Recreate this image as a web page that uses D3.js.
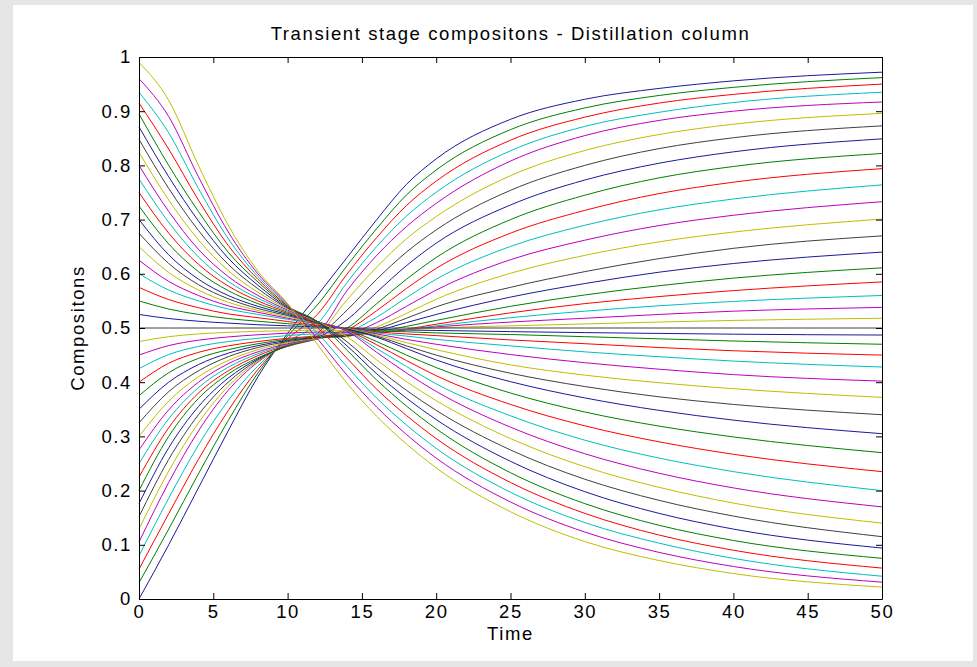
<!DOCTYPE html>
<html>
<head>
<meta charset="utf-8">
<script src="https://cdn.jsdelivr.net/npm/d3@7"></script>
<style>
  html, body { margin: 0; padding: 0; background: #e6e6e6; }
  svg { display: block; }
  text { font-family: "Liberation Sans", Arial, Helvetica, sans-serif; fill: #000; }
</style>
</head>
<body>
<script>
// ---- data ----
const title = "Transient stage compositons - Distillation column";
const xLabel = "Time";
const yLabel = "Compositons";
const xTicks = [0, 5, 10, 15, 20, 25, 30, 35, 40, 45, 50];
const yTicks = [0, 0.1, 0.2, 0.3, 0.4, 0.5, 0.6, 0.7, 0.8, 0.9, 1];
const yTickLabels = ["0", "0.1", "0.2", "0.3", "0.4", "0.5", "0.6", "0.7", "0.8", "0.9", "1"];
const times = [0, 2, 4, 6, 8, 10, 12, 14, 16, 18, 20, 25, 30, 35, 40, 50];

const stage00 = [0.0, 0.10, 0.205, 0.31, 0.41, 0.49, 0.56, 0.63, 0.70, 0.765, 0.812, 0.885, 0.922, 0.942, 0.956, 0.972];
const stage01 = [0.03, 0.129, 0.231, 0.329, 0.417, 0.485, 0.5425, 0.615, 0.6835, 0.7455, 0.7915, 0.866, 0.906, 0.929, 0.944, 0.962];
const stage02 = [0.055, 0.1575, 0.2575, 0.3475, 0.4235, 0.48, 0.525, 0.5995, 0.667, 0.726, 0.771, 0.8465, 0.889, 0.915, 0.931, 0.95];
const stage03 = [0.08, 0.186, 0.284, 0.366, 0.43, 0.475, 0.5075, 0.584, 0.6505, 0.7065, 0.7505, 0.827, 0.872, 0.898, 0.916, 0.935];
const stage04 = [0.105, 0.215, 0.31, 0.385, 0.437, 0.47, 0.49, 0.569, 0.634, 0.687, 0.73, 0.808, 0.855, 0.883, 0.90, 0.917];
const stage05 = [0.129, 0.236, 0.325, 0.3925, 0.439, 0.469, 0.4875, 0.552, 0.6125, 0.6645, 0.7055, 0.781, 0.8275, 0.857, 0.876, 0.896];
const stage06 = [0.152, 0.2575, 0.34, 0.40, 0.441, 0.468, 0.485, 0.533, 0.59, 0.64, 0.681, 0.754, 0.80, 0.831, 0.851, 0.873];
const stage07 = [0.176, 0.279, 0.355, 0.4075, 0.443, 0.467, 0.4825, 0.515, 0.566, 0.615, 0.6565, 0.727, 0.773, 0.804, 0.825, 0.849];
const stage08 = [0.20, 0.30, 0.37, 0.415, 0.445, 0.466, 0.48, 0.50, 0.545, 0.59, 0.63, 0.70, 0.745, 0.777, 0.798, 0.822];
const stage09 = [0.225, 0.316, 0.38, 0.421, 0.449, 0.468, 0.48, 0.496, 0.532, 0.573, 0.61, 0.675, 0.717, 0.748, 0.769, 0.794];
const stage10 = [0.25, 0.3325, 0.39, 0.4275, 0.4525, 0.4695, 0.4805, 0.492, 0.52, 0.556, 0.59, 0.6505, 0.6895, 0.718, 0.738, 0.764];
const stage11 = [0.275, 0.349, 0.40, 0.434, 0.456, 0.471, 0.481, 0.488, 0.51, 0.54, 0.57, 0.626, 0.662, 0.689, 0.708, 0.733];
const stage12 = [0.30, 0.365, 0.41, 0.44, 0.46, 0.473, 0.481, 0.484, 0.502, 0.527, 0.553, 0.601, 0.634, 0.659, 0.677, 0.701];
const stage13 = [0.325, 0.3825, 0.421, 0.447, 0.464, 0.475, 0.482, 0.485, 0.498, 0.518, 0.539, 0.575, 0.604, 0.628, 0.647, 0.67];
const stage14 = [0.35, 0.40, 0.4325, 0.4535, 0.4675, 0.477, 0.483, 0.486, 0.495, 0.51, 0.525, 0.557, 0.582, 0.603, 0.619, 0.64];
const stage15 = [0.375, 0.4175, 0.444, 0.46, 0.471, 0.479, 0.484, 0.487, 0.493, 0.503, 0.514, 0.54, 0.561, 0.578, 0.592, 0.611];
const stage16 = [0.40, 0.435, 0.455, 0.467, 0.475, 0.481, 0.485, 0.487, 0.491, 0.498, 0.507, 0.528, 0.545, 0.558, 0.569, 0.585];
const stage17 = [0.425, 0.451, 0.466, 0.475, 0.481, 0.486, 0.489, 0.489, 0.491, 0.497, 0.504, 0.519, 0.531, 0.541, 0.549, 0.56];
const stage18 = [0.45, 0.4675, 0.4775, 0.4835, 0.4875, 0.4905, 0.4925, 0.492, 0.492, 0.497, 0.502, 0.511, 0.518, 0.525, 0.531, 0.538];
const stage19 = [0.475, 0.484, 0.489, 0.492, 0.494, 0.495, 0.496, 0.495, 0.494, 0.497, 0.5, 0.504, 0.5075, 0.511, 0.514, 0.518];
const stage20 = [0.5, 0.5, 0.5, 0.5, 0.5, 0.5, 0.5, 0.5, 0.5, 0.5, 0.5, 0.5, 0.5, 0.5, 0.5, 0.5];
const stage21 = [0.525, 0.5175, 0.5125, 0.509, 0.506, 0.504, 0.502, 0.5, 0.497, 0.4962, 0.4955, 0.4933, 0.4915, 0.49, 0.4886, 0.487];
const stage22 = [0.55, 0.535, 0.525, 0.5175, 0.5125, 0.508, 0.5035, 0.5, 0.495, 0.493, 0.491, 0.488, 0.484, 0.48, 0.476, 0.47];
const stage23 = [0.575, 0.5525, 0.5375, 0.526, 0.519, 0.512, 0.505, 0.5, 0.493, 0.489, 0.486, 0.478, 0.471, 0.464, 0.458, 0.45];
const stage24 = [0.60, 0.57, 0.55, 0.535, 0.525, 0.516, 0.507, 0.499, 0.491, 0.485, 0.479, 0.467, 0.456, 0.447, 0.439, 0.428];
const stage25 = [0.625, 0.586, 0.56, 0.541, 0.529, 0.518, 0.508, 0.499, 0.489, 0.479, 0.47, 0.451, 0.436, 0.424, 0.414, 0.402];
const stage26 = [0.65, 0.6025, 0.57, 0.5475, 0.5325, 0.5205, 0.5085, 0.499, 0.487, 0.473, 0.46, 0.432, 0.413, 0.399, 0.388, 0.372];
const stage27 = [0.675, 0.619, 0.58, 0.554, 0.536, 0.523, 0.509, 0.498, 0.485, 0.467, 0.45, 0.4165, 0.392, 0.373, 0.359, 0.34];
const stage28 = [0.70, 0.635, 0.59, 0.56, 0.54, 0.525, 0.51, 0.498, 0.483, 0.462, 0.441, 0.401, 0.371, 0.348, 0.33, 0.305];
const stage29 = [0.725, 0.655, 0.604, 0.569, 0.545, 0.527, 0.5105, 0.497, 0.475, 0.45, 0.427, 0.38, 0.345, 0.319, 0.299, 0.27];
const stage30 = [0.75, 0.675, 0.6175, 0.5775, 0.55, 0.529, 0.511, 0.496, 0.469, 0.44, 0.412, 0.359, 0.3195, 0.29, 0.267, 0.235];
const stage31 = [0.775, 0.695, 0.631, 0.586, 0.555, 0.531, 0.5115, 0.495, 0.462, 0.429, 0.397, 0.338, 0.293, 0.26, 0.235, 0.20];
const stage32 = [0.80, 0.715, 0.645, 0.595, 0.56, 0.533, 0.512, 0.494, 0.455, 0.417, 0.383, 0.317, 0.268, 0.232, 0.205, 0.17];
const stage33 = [0.824, 0.736, 0.6625, 0.606, 0.566, 0.535, 0.512, 0.484, 0.441, 0.401, 0.366, 0.296, 0.244, 0.206, 0.177, 0.14];
const stage34 = [0.848, 0.7575, 0.68, 0.6175, 0.5725, 0.5365, 0.512, 0.4745, 0.427, 0.385, 0.348, 0.275, 0.221, 0.182, 0.153, 0.115];
const stage35 = [0.871, 0.779, 0.6975, 0.629, 0.579, 0.538, 0.512, 0.467, 0.4155, 0.3705, 0.331, 0.254, 0.198, 0.158, 0.129, 0.094];
const stage36 = [0.895, 0.80, 0.715, 0.64, 0.585, 0.54, 0.512, 0.459, 0.404, 0.356, 0.314, 0.233, 0.176, 0.136, 0.108, 0.075];
const stage37 = [0.915, 0.83, 0.736, 0.6525, 0.59, 0.541, 0.5015, 0.444, 0.387, 0.3385, 0.296, 0.215, 0.158, 0.118, 0.09, 0.057];
const stage38 = [0.935, 0.86, 0.7575, 0.665, 0.595, 0.5425, 0.491, 0.4285, 0.3705, 0.321, 0.278, 0.197, 0.141, 0.103, 0.075, 0.042];
const stage39 = [0.96, 0.89, 0.779, 0.6775, 0.60, 0.544, 0.4805, 0.413, 0.354, 0.3035, 0.26, 0.179, 0.1235, 0.086, 0.06, 0.031];
const stage40 = [0.99, 0.92, 0.80, 0.69, 0.605, 0.545, 0.47, 0.398, 0.337, 0.286, 0.242, 0.161, 0.106, 0.071, 0.047, 0.022];

const stages = [stage00, stage01, stage02, stage03, stage04, stage05, stage06, stage07, stage08, stage09,
  stage10, stage11, stage12, stage13, stage14, stage15, stage16, stage17, stage18, stage19, stage20,
  stage21, stage22, stage23, stage24, stage25, stage26, stage27, stage28, stage29, stage30,
  stage31, stage32, stage33, stage34, stage35, stage36, stage37, stage38, stage39, stage40];

// MATLAB default colour order
const colorOrder = ["#1a1a9a", "#007f00", "#ff0000", "#00bfbf", "#bf00bf", "#bfbf00", "#404040"];

// ---- drawing ----
const W = 977, H = 667;
const plot = { left: 139, right: 882, top: 57, bottom: 599 };

const svg = d3.select("body").append("svg").attr("width", W).attr("height", H);
svg.append("rect").attr("x", 0).attr("y", 0).attr("width", W).attr("height", H).attr("fill", "#e6e6e6");
svg.append("rect").attr("x", 13).attr("y", 5).attr("width", 960).attr("height", 656).attr("fill", "#ffffff");

const x = d3.scaleLinear().domain([0, 50]).range([plot.left, plot.right]);
const y = d3.scaleLinear().domain([0, 1]).range([plot.bottom, plot.top]);

const line = d3.line()
  .x((d, i) => x(times[i]))
  .y(d => y(d))
  .curve(d3.curveMonotoneX);

svg.append("g")
  .selectAll("path")
  .data(stages)
  .join("path")
  .attr("d", d => line(d))
  .attr("fill", "none")
  .attr("stroke", (d, i) => colorOrder[i % colorOrder.length])
  .attr("stroke-width", 1);

const fontSize = "18.5px";
const spacing = "1.6px";

function styleAxis(g) {
  g.select(".domain").attr("stroke", "#000").attr("stroke-width", 1);
  g.selectAll(".tick line").attr("stroke", "#000");
  g.selectAll("text").style("font-size", fontSize).style("letter-spacing", spacing)
    .attr("fill", "#000").style("font-family", "'Liberation Sans', Arial, sans-serif");
}

svg.append("g")
  .attr("transform", `translate(0,${plot.bottom})`)
  .call(d3.axisBottom(x).tickValues(xTicks).tickSizeInner(-6).tickSizeOuter(0).tickPadding(6).tickFormat(d3.format("d")))
  .call(styleAxis);

svg.append("g")
  .attr("transform", `translate(0,${plot.top})`)
  .call(d3.axisTop(x).tickValues(xTicks).tickSizeInner(-6).tickSizeOuter(0).tickFormat(""))
  .call(styleAxis);

svg.append("g")
  .attr("transform", `translate(${plot.left},0)`)
  .call(d3.axisLeft(y).tickValues(yTicks).tickSizeInner(-6).tickSizeOuter(0).tickPadding(7)
    .tickFormat((d, i) => yTickLabels[i]))
  .call(styleAxis);

svg.append("g")
  .attr("transform", `translate(${plot.right},0)`)
  .call(d3.axisRight(y).tickValues(yTicks).tickSizeInner(-6).tickSizeOuter(0).tickFormat(""))
  .call(styleAxis);

svg.append("text")
  .attr("x", (plot.left + plot.right) / 2)
  .attr("y", 40)
  .attr("text-anchor", "middle")
  .style("font-size", fontSize).style("letter-spacing", spacing)
  .text(title);

svg.append("text")
  .attr("x", (plot.left + plot.right) / 2)
  .attr("y", 640)
  .attr("text-anchor", "middle")
  .style("font-size", fontSize).style("letter-spacing", spacing)
  .text(xLabel);

svg.append("text")
  .attr("transform", `translate(84,${(plot.top + plot.bottom) / 2}) rotate(-90)`)
  .attr("text-anchor", "middle")
  .style("font-size", fontSize).style("letter-spacing", spacing)
  .text(yLabel);
</script>
</body>
</html>
